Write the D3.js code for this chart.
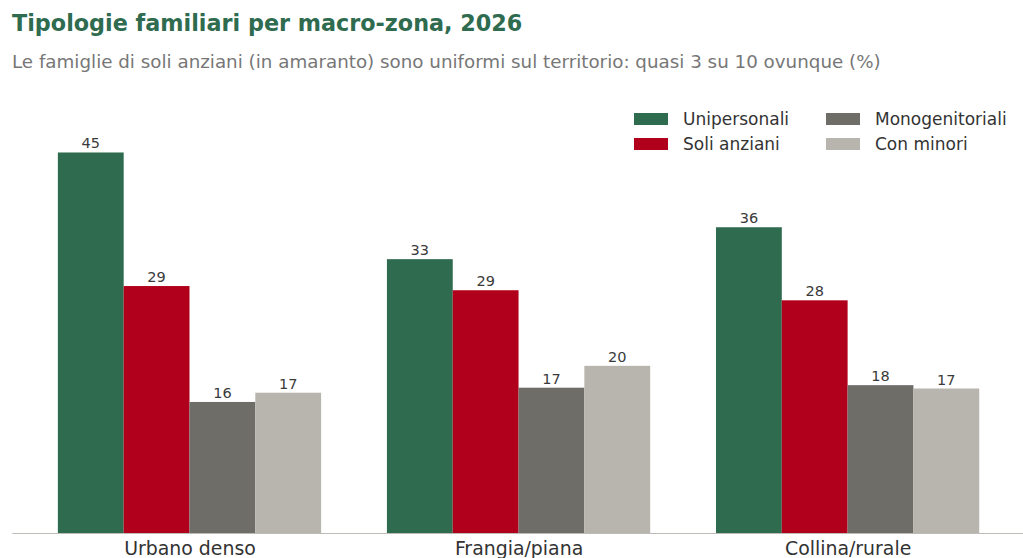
<!DOCTYPE html>
<html>
<head>
<meta charset="utf-8">
<script src="https://cdn.jsdelivr.net/npm/d3@7"></script>
<style>
  body { margin: 0; background: #fff; }
  svg { display: block; font-family: "DejaVu Sans", sans-serif; }
</style>
</head>
<body>
<script>
// Chart data
var zones = ["Urbano denso", "Frangia/piana", "Collina/rurale"];
var seriesNames = ["Unipersonali", "Soli anziani", "Monogenitoriali", "Con minori"];
var unipersonali = [45.3, 32.6, 36.4];
var soliAnziani = [29.4, 28.9, 27.7];
var monogenitoriali = [15.6, 17.3, 17.6];
var conMinori = [16.7, 19.9, 17.2];
var colors = ["#2e6b4f", "#b1001b", "#6f6d68", "#b8b5ae"];

var W = 1023, H = 558;
var baseY = 533;

var svg = d3.select("body").append("svg")
    .attr("width", W)
    .attr("height", H);

// Title and subtitle
svg.append("text")
    .attr("x", 12).attr("y", 31)
    .style("font-size", "22.3px")
    .style("font-weight", "bold")
    .style("fill", "#2e6b4f")
    .text("Tipologie familiari per macro-zona, 2026");

svg.append("text")
    .attr("x", 12).attr("y", 68)
    .style("font-size", "18.3px")
    .style("fill", "#777")
    .text("Le famiglie di soli anziani (in amaranto) sono uniformi sul territorio: quasi 3 su 10 ovunque (%)");

// Scales
var x0 = d3.scaleLinear().domain([-0.54, 2.54]).range([11.8, 1025.3]);
var step = x0(1) - x0(0);
var barW = step * 0.2;
var y = d3.scaleLinear().domain([0, 50]).range([baseY, baseY - 420]);

var series = [unipersonali, soliAnziani, monogenitoriali, conMinori];

var data = [];
series.forEach(function(vals, s) {
    vals.forEach(function(v, i) {
        data.push({zone: i, s: s, v: v});
    });
});

var g = svg.append("g");

g.selectAll("rect.bar")
    .data(data)
  .enter().append("rect")
    .attr("class", "bar")
    .attr("x", function(d) { return x0(d.zone) + (d.s - 2) * barW; })
    .attr("y", function(d) { return y(d.v); })
    .attr("width", barW)
    .attr("height", function(d) { return y(0) - y(d.v); })
    .style("fill", function(d) { return colors[d.s]; });

g.selectAll("text.val")
    .data(data)
  .enter().append("text")
    .attr("class", "val")
    .attr("x", function(d) { return x0(d.zone) + (d.s - 1.5) * barW; })
    .attr("y", function(d) { return y(d.v) - 4; })
    .style("text-anchor", "middle")
    .style("font-size", "14.5px")
    .style("fill", "#3a3a3a")
    .text(function(d) { return Math.round(d.v); });

// x axis baseline + labels
var xAxis = d3.axisBottom(x0)
    .tickValues([0, 1, 2])
    .tickSize(0)
    .tickPadding(0)
    .tickFormat(function(d) { return zones[d]; });

var ax = svg.append("g")
    .attr("transform", "translate(0," + baseY + ")")
    .call(xAxis);
ax.select(".domain").style("stroke", "#bdbbb6").style("stroke-width", 1.2);
ax.selectAll(".tick text")
    .style("font-family", "DejaVu Sans, sans-serif")
    .style("font-size", "18.9px")
    .style("fill", "#333")
    .attr("y", 22)
    .attr("dy", 0);

// Legend
var legendPos = [[634, 113], [634, 138], [826, 113], [826, 138]];
var legend = svg.selectAll("g.leg")
    .data(seriesNames)
  .enter().append("g")
    .attr("class", "leg")
    .attr("transform", function(d, i) { return "translate(" + legendPos[i][0] + "," + legendPos[i][1] + ")"; });

legend.append("rect")
    .attr("width", 34).attr("height", 12)
    .style("fill", function(d, i) { return colors[i]; });

legend.append("text")
    .attr("x", 49).attr("y", 12)
    .style("font-size", "17px")
    .style("fill", "#333")
    .text(function(d) { return d; });
</script>
</body>
</html>
